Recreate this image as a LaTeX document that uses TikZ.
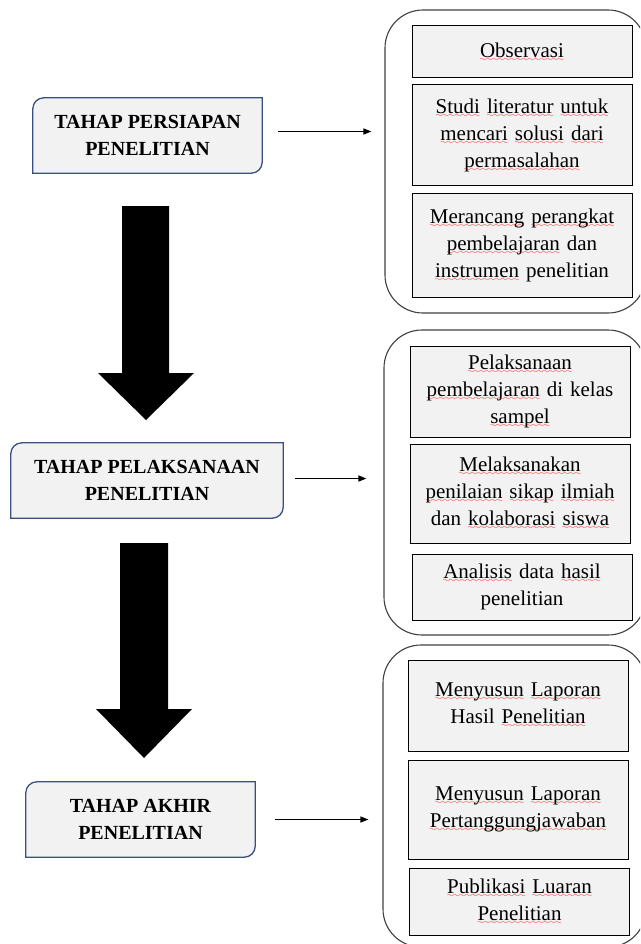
\documentclass[tikz,border=0pt]{standalone}
\usepackage{fontspec}
\setmainfont{Liberation Serif}
\usepackage{xcolor}
\definecolor{boxgray}{HTML}{F2F2F2}
\definecolor{stageblue}{HTML}{3A5080}
\definecolor{panelgray}{HTML}{404040}
\usepackage{tikz}
\usetikzlibrary{arrows.meta,positioning,calc,backgrounds}
\font\wavefont=lasy8
\newcommand\spell[1]{\leavevmode\setbox0\hbox{#1}\rlap{\lower4pt\hbox to\wd0{\color{red}\xleaders\hbox{\wavefont\char58}\hfil}}\box0\relax}
\tikzset{
  >={Triangle[length=8pt,width=6pt]},
  stage/.style={rectangle,inner sep=0pt,minimum height=75pt,align=center,font=\bfseries\fontsize{20}{27}\selectfont},
  stageline/.style={draw=stageblue,line width=1.3pt,fill=boxgray},
  panel/.style={rectangle,draw=panelgray,line width=1.1pt,rounded corners=38pt},
  task/.style={rectangle,draw,line width=1pt,fill=boxgray,minimum width=220pt,text width=204pt,inner sep=0pt,align=center,font=\fontsize{21}{27}\selectfont},
  link/.style={->,line width=1.2pt},
  bigarrow/.style={fill=black}
}

\begin{document}
\begin{tikzpicture}[x=1pt,y=-1pt]
  \useasboundingbox (0,0) rectangle (640,944);
  \clip (0,0) rectangle (640,944);

  % Stages
  \node[stage,minimum width=229pt] (s1) at (147.5,135.5) {TAHAP PERSIAPAN\\PENELITIAN};
  \node[stage,minimum width=272pt] (s2) at (147,480.5) {TAHAP PELAKSANAAN\\PENELITIAN};
  \node[stage,minimum width=229pt] (s3) at (140.5,819.5) {TAHAP AKHIR\\PENELITIAN};
  \begin{scope}[on background layer]
    \foreach \s in {s1,s2,s3}
      \draw[stageline] ([xshift=11pt]\s.north west) -- (\s.north east)
        -- ([yshift=11pt]\s.south east) arc[start angle=0,end angle=-90,radius=11pt]
        -- (\s.south west) -- ([yshift=-11pt]\s.north west)
        arc[start angle=180,end angle=90,radius=11pt] -- cycle;
  \end{scope}

  % Panels
  \node[panel,minimum width=261pt,minimum height=303pt] (p1) at (515.5,161.5) {};
  \node[panel,minimum width=262pt,minimum height=305pt] (p2) at (515,482.5) {};
  \node[panel,minimum width=263pt,minimum height=302pt] (p3) at (514.5,796) {};

  % Tasks of the first stage
  \node[task,minimum height=52pt] (t11) at (522,52) {\spell{Observasi}};
  \node[task,minimum height=100pt,below=6pt of t11] (t12) {\spell{Studi} \spell{literatur} \spell{untuk}\\\spell{mencari} \spell{solusi} \spell{dari}\\\spell{permasalahan}};
  \node[task,minimum height=104pt,below=7pt of t12] (t13) {\spell{Merancang} \spell{perangkat}\\\spell{pembelajaran} dan\\\spell{instrumen} penelitian};

  % Tasks of the second stage
  \node[task,minimum height=91pt] (t21) at (520,391.5) {\spell{Pelaksanaan}\\\spell{pembelajaran} di kelas\\\spell{sampel}};
  \node[task,minimum height=99pt,below=6pt of t21] (t22) {\spell{Melaksanakan}\\\spell{penilaian} \spell{sikap} \spell{ilmiah}\\dan \spell{kolaborasi} \spell{siswa}};
  \node[task,minimum height=66pt,below=10pt of t22,xshift=2pt] (t23) {\spell{Analisis} data \spell{hasil}\\penelitian};

  % Tasks of the last stage
  \node[task,minimum height=91pt] (t31) at (518,705.5) {\spell{Menyusun} \spell{Laporan}\\Hasil \spell{Penelitian}};
  \node[task,minimum height=99pt,below=8pt of t31] (t32) {\spell{Menyusun} \spell{Laporan}\\\spell{Pertanggungjawaban}};
  \node[task,minimum height=67pt,below=8pt of t32,xshift=1.5pt] (t33) {\spell{Publikasi} \spell{Luaran}\\\spell{Penelitian}};

  % Links to the panels
  \draw[link] ([xshift=16pt,yshift=4pt]s1.east) -- ($(s1.east -| p1.west)+(-13pt,4pt)$);
  \draw[link] ([xshift=12pt,yshift=2pt]s2.east) -- ($(s2.east -| p2.west)+(-17pt,2pt)$);
  \draw[link] ([xshift=20pt]s3.east) -- ($(s3.east -| p3.west)+(-14pt,0)$);

  % Big arrows between the stages
  \fill[bigarrow] (122,206) -- (169,206) -- (169,373) -- (194,373) -- (146,420) -- (98,373) -- (122,373) -- cycle;
  \fill[bigarrow] (120,543) -- (168,543) -- (168,709) -- (192,709) -- (144,758) -- (96,709) -- (120,709) -- cycle;
\end{tikzpicture}
\end{document}
